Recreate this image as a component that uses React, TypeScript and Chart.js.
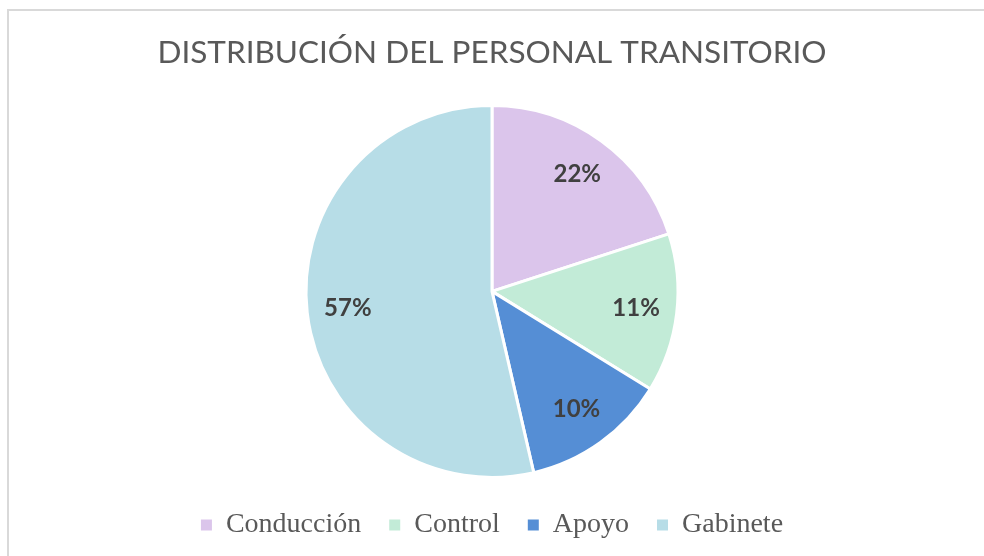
import React, { useEffect, useRef } from "react";
import { Chart, registerables } from "chart.js";

Chart.register(...registerables);

const titleText = "DISTRIBUCIÓN DEL PERSONAL TRANSITORIO";
const categories = ["Conducción", "Control", "Apoyo", "Gabinete"];
const sliceValues = [20.0, 13.8, 12.6, 53.6];
const percentLabels = ["22%", "11%", "10%", "57%"];
const sliceColors = ["#DBC5EB", "#C2EBD7", "#558ED5", "#B7DDE7"];

const labelPlugin = {
  id: "sliceLabels",
  afterDatasetsDraw(chart: any) {
    const ctx = chart.ctx;
    const meta = chart.getDatasetMeta(0);
    ctx.save();
    ctx.font = "bold 24px Lato, 'Open Sans', sans-serif";
    ctx.fillStyle = "#404040";
    ctx.textAlign = "center";
    ctx.textBaseline = "middle";
    meta.data.forEach((arc: any, i: number) => {
      const p = arc.getProps(["x", "y", "startAngle", "endAngle", "outerRadius"], true);
      const mid = (p.startAngle + p.endAngle) / 2;
      const r = p.outerRadius * 0.78;
      ctx.fillText(percentLabels[i], p.x + Math.cos(mid) * r, p.y + Math.sin(mid) * r);
    });
    ctx.restore();
  },
};

const framePlugin = {
  id: "frame",
  beforeDraw(chart: any) {
    const ctx = chart.ctx;
    ctx.save();
    ctx.fillStyle = "#ffffff";
    ctx.fillRect(0, 0, chart.width, chart.height);
    ctx.strokeStyle = "#d9d9d9";
    ctx.lineWidth = 2;
    ctx.beginPath();
    ctx.moveTo(8, chart.height);
    ctx.lineTo(8, 10);
    ctx.lineTo(chart.width, 10);
    ctx.stroke();
    ctx.restore();
  },
};

export default function App() {
  const ref = useRef<HTMLCanvasElement | null>(null);
  useEffect(() => {
    if (!ref.current) return;
    const chart = new Chart(ref.current, {
      type: "pie",
      data: {
        labels: categories,
        datasets: [
          {
            data: sliceValues,
            backgroundColor: sliceColors,
            borderColor: "#ffffff",
            borderWidth: 3,
          },
        ],
      },
      options: {
        animation: false,
        responsive: false,
        radius: 186,
        layout: { padding: { top: 0, bottom: 7, left: 0, right: 0 } },
        plugins: {
          title: {
            display: true,
            text: titleText,
            color: "#595959",
            font: { family: "Lato, 'Open Sans', sans-serif", size: 31.5, weight: "normal" },
            padding: { top: 34, bottom: 28 },
          },
          legend: {
            position: "bottom",
            labels: {
              color: "#595959",
              font: { family: "'Liberation Serif', 'Times New Roman', serif", size: 28 },
              boxWidth: 11,
              boxHeight: 11,
              padding: 28,
              generateLabels(chart: any) {
                const base = (Chart as any).overrides.pie.plugins.legend.labels.generateLabels(chart);
                return base.map((l: any) => ({ ...l, lineWidth: 0, strokeStyle: "transparent" }));
              },
            },
          },
          tooltip: { enabled: false },
        },
      },
      plugins: [framePlugin, labelPlugin],
    });
    return () => chart.destroy();
  }, []);
  return (
    <div style={{ position: "fixed", left: 0, top: 0, width: 984, height: 556, background: "#fff" }}>
      <canvas ref={ref} width={984} height={556} style={{ display: "block" }} />
    </div>
  );
}
